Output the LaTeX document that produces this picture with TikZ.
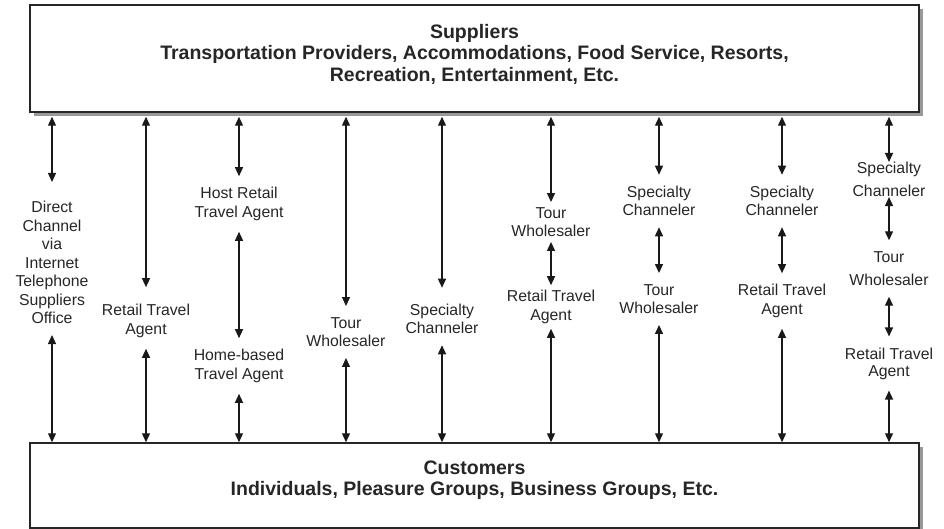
\documentclass[tikz,border=0pt]{standalone}
\usepackage{fontspec}
\setmainfont{Liberation Sans}
\usepackage{tikz}
\usetikzlibrary{calc, positioning, arrows.meta, shadows}
\tikzstyle{box}=[draw=black!85, line width=1.5pt, fill=white, inner sep=0pt, minimum width=889pt, drop shadow={shadow xshift=4pt, shadow yshift=-4pt, fill=black!40, opacity=1}]
\tikzstyle{head}=[align=center, text=black!85, font=\fontsize{19.5}{21.5}\selectfont\bfseries]
\tikzstyle{lbl}=[align=center, text=black!85, inner xsep=1pt, inner ysep=11pt, font=\fontsize{15.8}{18.5}\selectfont]
\tikzstyle{ar}=[<->, line width=1.3pt, draw=black!90]
\tikzset{>={Triangle[length=9pt,width=8pt]}}

\begin{document}
\begin{tikzpicture}[x=1pt, y=-1pt]
\useasboundingbox (0,0) rectangle (944,529);

% the two boxes
\node[box, minimum height=107pt] (sup) at (474.5,58.5) {};
\node[head] (suptxt) at (474.5,54) {Suppliers\\Transportation Providers, Accommodations, Food Service, Resorts,\\Recreation, Entertainment, Etc.};
\node[box, minimum height=85pt] (cus) at (474.5,485.5) {};
\node[head] (custxt) at (474.5,480) {Customers\\Individuals, Pleasure Groups, Business Groups, Etc.};

% channels
\node[lbl] (c1) at (52,262.5) {Direct\\Channel\\via\\Internet\\Telephone\\Suppliers\\Office};
\node[lbl] (c2) at (146,321) {Retail Travel\\Agent};
\node[lbl] (c3a) at (239,204) {Host Retail\\Travel Agent};
\node[lbl] (c3b) at (239,366) {Home-based\\Travel Agent};
\node[lbl] (c4) at (346,332) {Tour\\Wholesaler};
\node[lbl] (c5) at (442,319) {Specialty\\Channeler};
\node[lbl, inner ysep=5pt] (c6a) at (551,222) {Tour\\Wholesaler};
\node[lbl, inner ysep=5pt] (c6b) at (551,307) {Retail Travel\\Agent};
\node[lbl] (c7a) at (659,201) {Specialty\\Channeler};
\node[lbl] (c7b) at (659,299) {Tour\\Wholesaler};
\node[lbl] (c8a) at (782,201) {Specialty\\Channeler};
\node[lbl] (c8b) at (782,301) {Retail Travel\\Agent};
\node[lbl, inner ysep=0pt] (c9a) at (889,179.5) {Specialty\\[4.5pt]Channeler};
\node[lbl] (c9b) at (889,268.5) {Tour\\[4.5pt]Wholesaler};
\node[lbl] (c9c) at (889,363.5) {Retail Travel\\[-1.5pt]Agent};

\foreach \n/\s in {c1/8,c2/6,c3a/0,c4/0,c5/5,c6a/0,c7a/0,c8a/0,c9a/0}
{
\draw[ar, shorten <=4pt, shorten >=\s pt] (sup.south -| \n) -- (\n);
}
\foreach \a/\b in {c3a/c3b,c6a/c6b,c7a/c7b,c8a/c8b,c9a/c9b,c9b/c9c}
{
\draw[ar] (\a) -- (\b);
}
\foreach \n in {c1,c2,c3b,c4,c5,c6b,c7b,c8b,c9c}
{
\draw[ar] (\n) -- (cus.north -| \n);
}
\end{tikzpicture}
\end{document}
